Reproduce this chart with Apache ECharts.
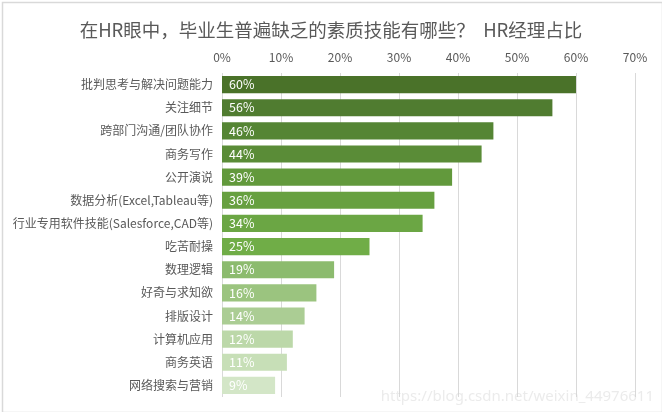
<!DOCTYPE html>
<html>
<head>
<meta charset="utf-8">
<script src="https://cdn.jsdelivr.net/npm/echarts@6/dist/echarts.min.js"></script>
<style>
html,body{margin:0;padding:0;background:#fff;}
#c{width:662px;height:412px;}
</style>
</head>
<body>
<div id="c"></div>
<script>
const categories = ["批判思考与解决问题能力","关注细节","跨部门沟通/团队协作","商务写作","公开演说","数据分析(Excel,Tableau等)","行业专用软件技能(Salesforce,CAD等)","吃苦耐操","数理逻辑","好奇与求知欲","排版设计","计算机应用","商务英语","网络搜索与营销"];
const values = [60,56,46,44,39,36,34,25,19,16,14,12,11,9];
const barColors = ["#4a7229","#507c30","#558534","#5a8c37","#62993c","#67a040","#6ba644","#70ad47","#8cbb6e","#9bc47f","#abcd94","#bcd8a9","#c7dfb7","#d3e6c7"];
const tickMax = 70, tickStep = 10;
const titleText = "在HR眼中，毕业生普遍缺乏的素质技能有哪些？  HR经理占比";
const watermark = "https://blog.csdn.net/weixin_44976611";

const font = '"Noto Sans CJK SC", "Noto Sans", sans-serif';
const chart = echarts.init(document.getElementById('c'), null, {renderer:'canvas'});
chart.setOption({
  animation:false,
  backgroundColor:'#fff',
  title:{text:titleText,left:'center',top:16,textStyle:{fontFamily:font,fontSize:18.5,fontWeight:'normal',color:'#595959'}},
  grid:{left:222,right:27,top:73,bottom:15,containLabel:false},
  xAxis:{type:'value',position:'top',min:0,max:tickMax,interval:tickStep,
    axisLine:{show:false},axisTick:{show:false},
    axisLabel:{formatter:'{value}%',color:'#595959',fontFamily:font,fontSize:12,margin:10},
    splitLine:{lineStyle:{color:'#d9d9d9',width:1}}},
  yAxis:{type:'category',data:categories,inverse:true,
    axisLine:{show:false},axisTick:{show:false},
    axisLabel:{color:'#595959',fontFamily:font,fontSize:12,margin:9}},
  series:[{type:'bar',barCategoryGap:'26%',
    data:values.map((v,i)=>({value:v,itemStyle:{color:barColors[i]}})),
    label:{show:true,position:'insideLeft',offset:[2,0],formatter:'{c}%',color:'#fff',fontFamily:font,fontSize:12.5}}],
  graphic:[
    {type:'rect',left:0,top:0,shape:{x:0.75,y:0.75,width:660,height:410},style:{fill:'none',stroke:'#d9d9d9',lineWidth:1.5},silent:true},
    {type:'text',right:8,bottom:8,style:{text:watermark,fill:'rgba(210,210,210,0.45)',font:'15px "Noto Sans", sans-serif'},silent:true,z:100}
  ]
});
</script>
</body>
</html>
